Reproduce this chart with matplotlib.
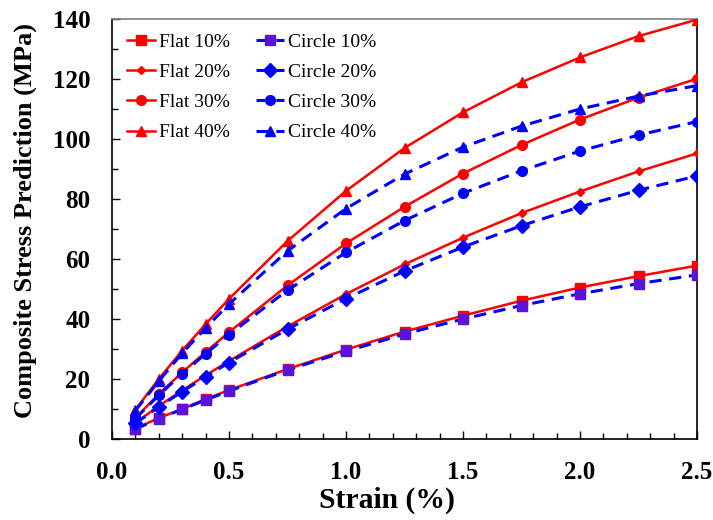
import matplotlib
matplotlib.use("Agg")
import matplotlib.pyplot as plt
from matplotlib.ticker import MultipleLocator

plt.rcParams['font.family'] = ['Liberation Serif', 'DejaVu Serif']
plt.rcParams['mathtext.fontset'] = 'stix'

strain = [0.1, 0.2, 0.3, 0.4, 0.5, 0.75, 1.0, 1.25, 1.5, 1.75, 2.0, 2.25, 2.5]

flat_10 = [3.5, 7.0, 10.0, 13.3, 16.3, 23.3, 29.8, 35.8, 41.1, 46.1, 50.5, 54.3, 57.8]
circle_10 = [3.3, 6.8, 9.9, 13.0, 16.0, 23.0, 29.2, 35.0, 40.0, 44.5, 48.4, 51.8, 54.7]
flat_20 = [5.4, 11.0, 16.2, 21.2, 26.0, 37.5, 48.3, 58.2, 67.1, 75.3, 82.5, 89.2, 95.2]
circle_20 = [5.2, 10.7, 15.8, 20.7, 25.5, 36.6, 46.8, 56.0, 64.0, 71.1, 77.4, 82.9, 87.7]
flat_30 = [7.0, 15.0, 22.2, 29.0, 35.6, 51.2, 65.2, 77.4, 88.5, 98.0, 106.5, 113.8, 120.1]
circle_30 = [6.8, 14.6, 21.8, 28.4, 34.8, 49.6, 62.2, 72.8, 81.9, 89.4, 96.0, 101.3, 105.8]
flat_40 = [9.8, 20.0, 29.5, 38.3, 46.7, 66.0, 82.7, 97.0, 108.9, 118.9, 127.2, 134.3, 139.8]
circle_40 = [9.5, 19.3, 28.6, 37.0, 45.0, 62.7, 76.8, 88.3, 97.3, 104.3, 110.0, 114.3, 117.8]

fig = plt.figure(figsize=(7.13, 5.2), dpi=100)
ax = fig.add_axes([112/713, 1-439/520, 585/713, 420/520])

red = '#FF0000'
blue = '#0000FF'
purple = '#5A14D8'

h = {}
h['Flat 10%'], = ax.plot(strain, flat_10, '-', color=red, lw=1.8, marker='s', ms=7, mfc=red, mec=red, zorder=3)
h['Flat 20%'], = ax.plot(strain, flat_20, '-', color=red, lw=1.8, marker='D', ms=4, mfc=red, mec=red, zorder=3)
h['Flat 30%'], = ax.plot(strain, flat_30, '-', color=red, lw=1.8, marker='o', ms=7, mfc=red, mec=red, zorder=3)
h['Flat 40%'], = ax.plot(strain, flat_40, '-', color=red, lw=1.8, marker='^', ms=7, mfc=red, mec=red, zorder=3)
h['Circle 10%'], = ax.plot(strain, circle_10, '--', color=blue, lw=2.2, dashes=(4, 2.5), marker='s', ms=7, mfc=purple, mec=purple, zorder=4)
h['Circle 20%'], = ax.plot(strain, circle_20, '--', color=blue, lw=2.2, dashes=(4, 2.5), marker='D', ms=7, mfc=blue, mec=blue, zorder=4)
h['Circle 30%'], = ax.plot(strain, circle_30, '--', color=blue, lw=2.2, dashes=(4, 2.5), marker='o', ms=7, mfc=blue, mec=blue, zorder=4)
h['Circle 40%'], = ax.plot(strain, circle_40, '--', color=blue, lw=2.2, dashes=(4, 2.5), marker='^', ms=7, mfc=blue, mec=blue, zorder=4)

order = ['Flat 10%', 'Flat 20%', 'Flat 30%', 'Flat 40%',
         'Circle 10%', 'Circle 20%', 'Circle 30%', 'Circle 40%']
leg = ax.legend([h[k] for k in order], order, ncol=2, loc='upper left', frameon=False,
                fontsize=14, handlelength=1.45, handletextpad=0.2, columnspacing=1.35,
                labelspacing=0.64, borderaxespad=0.35, bbox_to_anchor=(0.0, 1.0))

ax.set_xlim(0, 2.5)
ax.set_ylim(0, 140)
ax.xaxis.set_minor_locator(MultipleLocator(0.1))
ax.yaxis.set_minor_locator(MultipleLocator(10))
ax.tick_params(which='both', direction='in', top=False, right=False, labelsize=18, width=1)
ax.tick_params(which='major', length=6)
ax.tick_params(which='minor', length=4)
ax.set_xticks([0.0, 0.5, 1.0, 1.5, 2.0, 2.5])
ax.set_xticklabels(['0.0', '0.5', '1.0', '1.5', '2.0', '2.5'], fontweight='bold')
ax.set_yticks([0, 20, 40, 60, 80, 100, 120, 140])
ax.set_yticklabels(['0', '20', '40', '60', '80', '100', '120', '140'], fontweight='bold')
ax.tick_params(axis='x', pad=15.5)
ax.tick_params(axis='y', pad=15.5)

ax.set_xlabel('Strain (%)', fontsize=21.3, fontweight='bold')
ax.set_ylabel('Composite Stress Prediction (MPa)', fontsize=19, fontweight='bold')
ax.xaxis.set_label_coords((387 - 112) / 585, -(487 - 439) / 420)
ax.yaxis.set_label_coords((37 - 112) / 585, (439 - 220) / 420)

for s in ['left', 'bottom', 'right']:
    ax.spines[s].set_color('black')
    ax.spines[s].set_linewidth(1.2)
ax.spines['top'].set_color('#808080')
ax.spines['top'].set_linewidth(1.2)

fig.savefig('out.png', dpi=100)
